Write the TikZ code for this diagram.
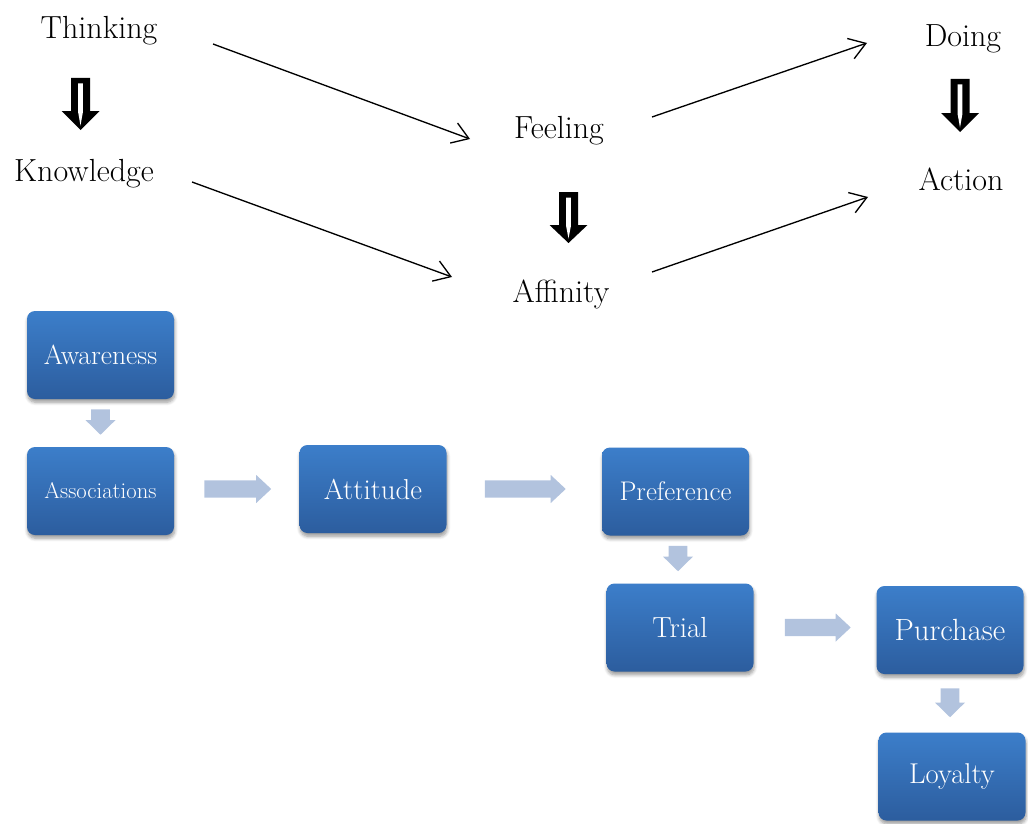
\documentclass[tikz,border=0pt]{standalone}
\usetikzlibrary{calc,arrows.meta,shadows.blur}
\definecolor{boxtop}{RGB}{60,126,202}
\definecolor{boxbot}{RGB}{44,93,158}
\definecolor{lightarr}{RGB}{178,195,222}
\tikzset{
  toplabel/.style={inner sep=0pt, font=\fontsize{24}{28}\selectfont, text=black},
  flowbox/.style={rounded corners=6pt, minimum width=110.25pt, minimum height=66pt, inner sep=0pt,
    top color=boxtop, bottom color=boxbot, text=white,
    blur shadow={shadow xshift=0.5pt, shadow yshift=-2.5pt, shadow blur steps=6, shadow blur radius=2.5pt, shadow opacity=40}},
  thinarrow/.style={line width=1pt, -{Straight Barb[length=12pt,width=16pt,line width=1pt]}},
  lightfill/.style={fill=lightarr},
  fatline/.style={fill=black},
}
\newcommand\harr[2]{%
  \fill[lightfill] let \p1=(#1), \p2=(#2) in
    (\x1,\y1+6.4pt) -- (\x2-11.25pt,\y1+6.4pt) -- (\x2-11.25pt,\y1+10.5pt) -- (\x2,\y1)
    -- (\x2-11.25pt,\y1-10.5pt) -- (\x2-11.25pt,\y1-6.4pt) -- (\x1,\y1-6.4pt) -- cycle;}
\newcommand\varr[2]{%
  \fill[lightfill] let \p1=(#1), \p2=(#2) in
    (\x1-7.1pt,\y1) -- (\x1+7.1pt,\y1) -- (\x1+7.1pt,\y2+11pt) -- (\x1+11.25pt,\y2+11pt)
    -- (\x1,\y2) -- (\x1-11.25pt,\y2+11pt) -- (\x1-7.1pt,\y2+11pt) -- cycle;}
% fat hollow down arrow: cx, ytop, yhead, ytip (px units)
\newcommand\fatdown[4]{%
  \fill[fatline] (#1-9.5,#2) -- (#1+9.5,#2) -- (#1+9.5,#3) -- (#1+19,#3) -- (#1,#4)
    -- (#1-19,#3) -- (#1-9.5,#3) -- cycle;
  \fill[white] (#1-2.4,#2+5.5) -- (#1+2.4,#2+5.5) -- (#1+2.4,#3+1) -- (#1,#4-4.5)
    -- (#1-2.4,#3+1) -- cycle;}
\begin{document}
\begin{tikzpicture}[x=0.75pt,y=-0.75pt]
\path[use as bounding box] (0,0) rectangle (1028,824);

% top labels
\node[toplabel] (thinking) at (99,31) {Thinking};
\node[toplabel] (knowledge) at (84,174) {Knowledge};
\node[toplabel] (feeling) at (559,131) {Feeling};
\node[toplabel] (affinity) at (561,294) {Affinity};
\node[toplabel] (doing) at (963,39) {Doing};
\node[toplabel] (action) at (961,179) {Action};

% fat down arrows
\fatdown{80.5}{78}{111}{130}
\fatdown{568.5}{192}{225}{243}
\fatdown{960}{79}{113}{132}

% thin arrows
\draw[thinarrow] ($(thinking)+(114,13)$) -- ($(feeling)+(-89,8)$);
\draw[thinarrow] ($(knowledge)+(108,8)$) -- ($(affinity)+(-109,-17)$);
\draw[thinarrow] ($(feeling)+(93,-14)$) -- ($(doing)+(-96,4)$);
\draw[thinarrow] ($(affinity)+(91,-22)$) -- ($(action)+(-93,18)$);

% boxes
\node[flowbox, font=\fontsize{20.7}{24}\selectfont] (aware) at (100.5,355) {Awareness};
\node[flowbox, font=\fontsize{17}{20}\selectfont] (assoc) at (100.5,491) {Associations};
\node[flowbox, font=\fontsize{21.6}{25}\selectfont] (att) at (373,489) {Attitude};
\node[flowbox, font=\fontsize{20.2}{24}\selectfont] (pref) at (675.5,491.5) {Preference};
\node[flowbox, font=\fontsize{21.8}{25}\selectfont] (trial) at (680,627.5) {Trial};
\node[flowbox, font=\fontsize{23}{27}\selectfont] (purch) at (950,630) {Purchase};
\node[flowbox, font=\fontsize{21.5}{25}\selectfont] (loyal) at (952,776.5) {Loyalty};

% light arrows
\varr{$(aware.south)+(0,10)$}{$(assoc.north)+(0,-12)$}
\harr{$(assoc.east)+(30,-2)$}{$(att.west)+(-28,0)$}
\harr{$(att.east)+(38,0)$}{$(pref.west)+(-36,0)$}
\varr{$(pref.south)+(2.5,10)$}{$(trial.north)+(-2,-12)$}
\harr{$(trial.east)+(31,0)$}{$(purch.west)+(-25.5,0)$}
\varr{$(purch.south)+(0,14)$}{$(loyal.north)+(-2,-15)$}
\end{tikzpicture}
\end{document}
